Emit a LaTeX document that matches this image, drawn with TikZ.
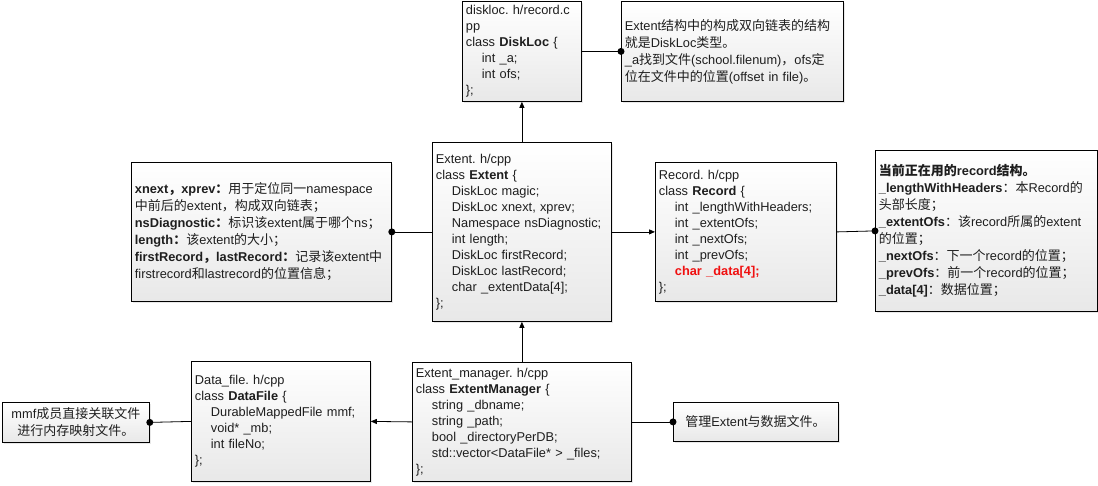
\documentclass[tikz,border=0pt]{standalone}
\usepackage{fontspec}
\setmainfont{Liberation Sans}
\newfontfamily\cjk{Noto Sans CJK SC}
\usetikzlibrary{arrows.meta,shadows}
\newcommand\zh[1]{{\cjk\fontsize{13}{16}\selectfont #1}}
\newcommand\ind{\hspace*{16pt}}
\definecolor{txtcol}{HTML}{1E1E1E}
\definecolor{redcol}{HTML}{F01010}
\tikzset{
  box/.style={draw=black, line width=0.8pt, top color=white, bottom color=black!9,
    drop shadow={opacity=0.18, shadow xshift=2pt, shadow yshift=-2pt},
    anchor=north west, inner xsep=3.5pt, inner ysep=0pt, align=left,
    font=\fontsize{12.8}{16}\selectfont\frenchspacing, text=txtcol},
  notebox/.style={box, font=\fontsize{12.8}{17}\selectfont\frenchspacing},
  link/.style={line width=0.8pt},
  arr/.style={link, -{Triangle[length=6pt,width=5pt]}},
}

\begin{document}
\begin{tikzpicture}[x=1pt, y=-1pt]
	\useasboundingbox (0,0) rectangle (1098,485);
	
	% class boxes
	\node[box, text width=112pt, minimum height=100pt] (diskloc) at (462,1)
	{diskloc. h/record.c\\pp\\class \textbf{DiskLoc} \{\\\ind int \_a;\\\ind int ofs;\\\};};
	
	\node[box, text width=172pt, minimum height=179pt] (extent) at (432,142)
	{Extent. h/cpp\\class \textbf{Extent} \{\\\ind DiskLoc magic;\\\ind DiskLoc xnext, xprev;\\\ind Namespace nsDiagnostic;\\\ind int length;\\\ind DiskLoc firstRecord;\\\ind DiskLoc lastRecord;\\\ind char \_extentData[4];\\\};};
	
	\node[box, text width=174pt, minimum height=139pt] (record) at (655,162)
	{Record. h/cpp\\class \textbf{Record} \{\\\ind int \_lengthWithHeaders;\\\ind int \_extentOfs;\\\ind int \_nextOfs;\\\ind int \_prevOfs;\\\ind{\color{redcol}\bfseries char \_data[4];}\\\};};
	
	\node[box, text width=212pt, minimum height=119pt] (manager) at (412,362)
	{Extent\_manager. h/cpp\\class \textbf{ExtentManager} \{\\\ind string \_dbname;\\\ind string \_path;\\\ind bool \_directoryPerDB;\\\ind std::vector<DataFile* > \_files;\\\};};
	
	\node[box, text width=172pt, minimum height=120pt] (datafile) at (191,361)
	{Data\_file. h/cpp\\class \textbf{DataFile} \{\\\ind DurableMappedFile mmf;\\\ind void* \_mb;\\\ind int fileNo;\\\};};
	
	% notes
	\node[notebox, text width=215pt, minimum height=100pt] (locnote) at (621,1)
	{Extent\zh{结构中的构成双向链表的结构}\\\zh{就是}DiskLoc\zh{类型。}\\\_a\zh{找到文件}(school.filenum)\zh{，}ofs\zh{定}\\\zh{位在文件中的位置}(offset in file)\zh{。}};
	
	\node[notebox, text width=253pt, minimum height=139pt] (extnote) at (131,162)
	{\textbf{xnext}\textbf{\zh{，}}\textbf{xprev}\textbf{\zh{：}}\zh{用于定位同一}namespace\\
	 \zh{中前后的}extent\zh{，构成双向链表；}\\
	 \textbf{nsDiagnostic}\textbf{\zh{：}}\zh{标识该}extent\zh{属于哪个}ns\zh{；}\\
	 \textbf{length}\textbf{\zh{：}}\zh{该}extent\zh{的大小；}\\
	 \textbf{firstRecord}\textbf{\zh{，}}\textbf{lastRecord}\textbf{\zh{：}}\zh{记录该}extent\zh{中}\\
	 firstrecord\zh{和}lastrecord\zh{的位置信息；}};
	
	\node[notebox, text width=215pt, minimum height=161pt] (recnote) at (875,150)
	{\textbf{\zh{当前正在用的}record\zh{结构。}}\\
	 \textbf{\_lengthWithHeaders}\zh{：本}Record\zh{的}\\
	 \zh{头部长度；}\\
	 \textbf{\_extentOfs}\zh{：该}record\zh{所属的}extent\\
	 \zh{的位置；}\\
	 \textbf{\_nextOfs}\zh{：下一个}record\zh{的位置；}\\
	 \textbf{\_prevOfs}\zh{：前一个}record\zh{的位置；}\\
	 \textbf{\_data[4]}\zh{：数据位置；}};
	
	\node[notebox, text width=140pt, minimum height=40pt, align=center] (mmfnote) at (2,402)
	{mmf\zh{成员直接关联文件}\\\zh{进行内存映射文件。}};
	
	\node[notebox, inner xsep=12pt, text width=141pt, minimum height=39pt] (mgrnote) at (673,402)
	{\zh{管理}Extent\zh{与数据文件。}};
	
	% connectors
	\draw[arr] (extent.north) -- (diskloc.south);
	\draw[arr] (manager.north) -- (extent.south);
	\draw[arr] (extent.east) -- (record.west);
	\draw[arr] (manager.west) -- (datafile.east);
	
	\draw[link] (diskloc.east) -- (locnote.west);
	\draw[link] (extnote.east) -- (extent.west);
	\draw[link] (record.east) -- (recnote.west);
	\draw[link] (mmfnote.east) -- (datafile.west);
	\draw[link] (manager.east) -- (mgrnote.west);
	
	\foreach \n/\a in {locnote/west, extnote/east, recnote/west, mmfnote/east, mgrnote/west}
		\fill (\n.\a) circle (3.5pt);
	
\end{tikzpicture}
\end{document}
